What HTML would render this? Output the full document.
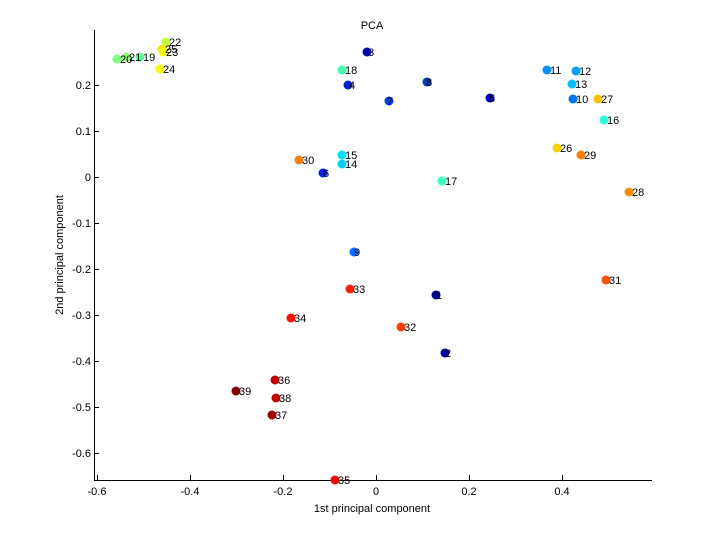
<!DOCTYPE html><html><head><style>body{margin:0;background:#fff}svg text{font-family:"Liberation Sans",sans-serif;font-size:11px;fill:#000}</style></head><body>
<svg width="720" height="540" xmlns="http://www.w3.org/2000/svg">
<rect width="720" height="540" fill="#fff"/>
<g stroke="#000" stroke-width="1" fill="none">
<line x1="94.5" y1="30" x2="94.5" y2="480.5"/>
<line x1="94" y1="480.5" x2="652" y2="480.5"/>
<path d="M97.5 480v-5M190.5 480v-5M283.5 480v-5M376.5 480v-5M469.5 480v-5M562.5 480v-5"/>
<path d="M94 85.5h5M94 131.5h5M94 177.5h5M94 223.5h5M94 269.5h5M94 315.5h5M94 361.5h5M94 407.5h5M94 453.5h5"/>
</g>
<g text-anchor="middle">
<text x="97" y="495">-0.6</text><text x="190" y="495">-0.4</text><text x="283" y="495">-0.2</text><text x="376" y="495">0</text><text x="469" y="495">0.2</text><text x="562" y="495">0.4</text>
<text x="372" y="29">PCA</text>
<text x="372" y="512">1st principal component</text>
<text transform="translate(63,255) rotate(-90)">2nd principal component</text>
</g>
<g text-anchor="end">
<text x="91" y="89">0.2</text><text x="91" y="135">0.1</text><text x="91" y="181">0</text><text x="91" y="227">-0.1</text><text x="91" y="273">-0.2</text><text x="91" y="319">-0.3</text><text x="91" y="365">-0.4</text><text x="91" y="411">-0.5</text><text x="91" y="457">-0.6</text>
</g>
<g>
<circle cx="166" cy="42" r="4.5" fill="#c0ff40"/><circle cx="162" cy="49" r="4.5" fill="#ffe000"/><circle cx="163" cy="52" r="4.5" fill="#f0ff10"/>
<circle cx="117" cy="59" r="4.5" fill="#80ff80"/><circle cx="126" cy="57" r="4.5" fill="#90ff70"/><circle cx="140" cy="57" r="4.5" fill="#60ffa0"/>
<circle cx="160" cy="69" r="4.5" fill="#ffff00"/><circle cx="367" cy="52" r="4.5" fill="#0000b0"/><circle cx="342" cy="70" r="4.5" fill="#40ffb0"/>
<circle cx="348" cy="85" r="4.5" fill="#0020d0"/><circle cx="427" cy="82" r="4.5" fill="#0040c0"/><circle cx="389" cy="101" r="4.5" fill="#0040e0"/>
<circle cx="490" cy="98" r="4.5" fill="#0000c0"/><circle cx="547" cy="70" r="4.5" fill="#0090ff"/><circle cx="576" cy="71" r="4.5" fill="#00a0ff"/>
<circle cx="572" cy="84" r="4.5" fill="#00c0ff"/><circle cx="573" cy="99" r="4.5" fill="#0070ff"/><circle cx="598" cy="99" r="4.5" fill="#ffc000"/>
<circle cx="604" cy="120" r="4.5" fill="#30ffe0"/><circle cx="557" cy="148" r="4.5" fill="#ffd000"/><circle cx="581" cy="155" r="4.5" fill="#ff8000"/>
<circle cx="629" cy="192" r="4.5" fill="#ff9000"/><circle cx="299" cy="160" r="4.5" fill="#ff8000"/><circle cx="342" cy="155" r="4.5" fill="#00e0ff"/>
<circle cx="342" cy="164" r="4.5" fill="#00d0ff"/><circle cx="323" cy="173" r="4.5" fill="#0020ff"/><circle cx="442" cy="181" r="4.5" fill="#40ffc0"/>
<circle cx="354" cy="252" r="4.5" fill="#0070ff"/><circle cx="350" cy="289" r="4.5" fill="#ff2000"/><circle cx="606" cy="280" r="4.5" fill="#ff5000"/>
<circle cx="291" cy="318" r="4.5" fill="#ff1000"/><circle cx="401" cy="327" r="4.5" fill="#ff4000"/><circle cx="436" cy="295" r="4.5" fill="#000090"/>
<circle cx="445" cy="353" r="4.5" fill="#0000a0"/><circle cx="275" cy="380" r="4.5" fill="#c00000"/><circle cx="276" cy="398" r="4.5" fill="#c00000"/>
<circle cx="236" cy="391" r="4.5" fill="#800000"/><circle cx="272" cy="415" r="4.5" fill="#a00000"/><circle cx="335" cy="480" r="4.5" fill="#ff0000"/>
</g>
<g transform="translate(2,0)">
<text x="167" y="46">22</text><text x="163" y="53">25</text><text x="164" y="56">23</text>
<text x="118" y="63">20</text><text x="127" y="61">21</text><text x="141" y="61">19</text>
<text x="161" y="73">24</text><text x="366" y="56">3</text><text x="343" y="74">18</text>
<text x="347" y="89">4</text><text x="424" y="86">8</text><text x="385" y="105">7</text>
<text x="487" y="102">5</text><text x="548" y="74">11</text><text x="577" y="75">12</text>
<text x="573" y="88">13</text><text x="574" y="103">10</text><text x="599" y="103">27</text>
<text x="605" y="124">16</text><text x="558" y="152">26</text><text x="582" y="159">29</text>
<text x="630" y="196">28</text><text x="300" y="164">30</text><text x="343" y="159">15</text>
<text x="343" y="168">14</text><text x="321" y="177">6</text><text x="443" y="185">17</text>
<text x="352" y="256">9</text><text x="351" y="293">33</text><text x="607" y="284">31</text>
<text x="292" y="322">34</text><text x="402" y="331">32</text><text x="434" y="299">1</text>
<text x="443" y="357">2</text><text x="276" y="384">36</text><text x="277" y="402">38</text>
<text x="237" y="395">39</text><text x="273" y="419">37</text><text x="336" y="484">35</text>
</g>
</svg></body></html>
